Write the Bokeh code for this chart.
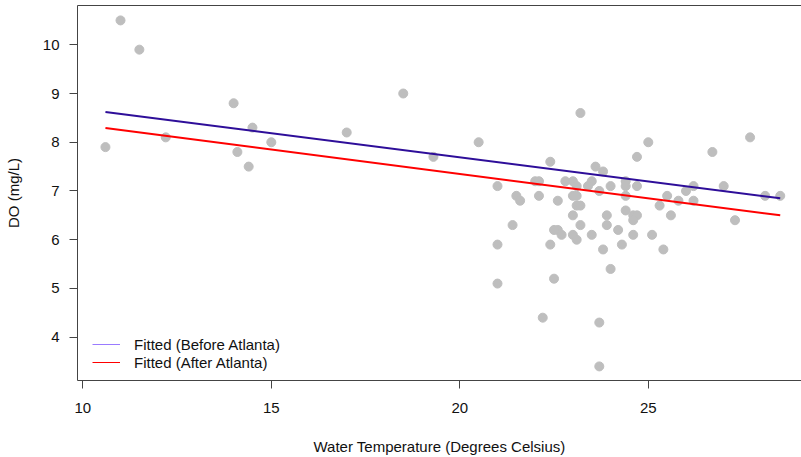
from bokeh.plotting import figure
from bokeh.models import Range1d, FixedTicker, LinearAxis, Legend, LegendItem
from bokeh.embed import file_html
from bokeh.resources import INLINE

# ---- data ----
water_temp = [10.6, 11.0, 11.5, 12.2, 14.0, 14.1, 14.5, 14.4, 15.0, 17.0, 18.5, 19.3, 20.5,
              23.2, 22.4, 23.6, 23.8, 24.0, 21.0, 21.5, 21.6, 22.0, 22.1, 22.1, 22.6, 22.8,
              23.0, 23.1, 23.0, 23.1, 23.5, 23.4, 23.7, 23.1, 23.2, 23.0, 23.9, 21.4, 22.6,
              23.2, 23.9, 25.0, 24.7, 26.7, 27.7, 24.4, 24.4, 24.7, 24.4, 25.5, 25.8, 26.0,
              26.2, 26.2, 27.0, 28.1, 28.5, 25.3, 25.6, 24.4, 24.6, 24.7, 24.6, 27.3, 24.2,
              22.5, 22.7, 23.0, 23.1, 23.5, 24.6, 25.1, 24.3, 21.0, 22.4, 23.8, 24.0, 21.0,
              22.5, 22.2, 23.7, 23.7, 25.4]
dissolved_oxygen = [7.9, 10.5, 9.9, 8.1, 8.8, 7.8, 8.3, 7.5, 8.0, 8.2, 9.0, 7.7, 8.0,
                    8.6, 7.6, 7.5, 7.4, 7.1, 7.1, 6.9, 6.8, 7.2, 7.2, 6.9, 6.8, 7.2,
                    7.2, 7.1, 6.9, 6.9, 7.2, 7.1, 7.0, 6.7, 6.7, 6.5, 6.5, 6.3, 6.2,
                    6.3, 6.3, 8.0, 7.7, 7.8, 8.1, 7.2, 7.1, 7.1, 6.9, 6.9, 6.8, 7.0,
                    7.1, 6.8, 7.1, 6.9, 6.9, 6.7, 6.5, 6.6, 6.5, 6.5, 6.4, 6.4, 6.2,
                    6.2, 6.1, 6.1, 6.0, 6.1, 6.1, 6.1, 5.9, 5.9, 5.9, 5.8, 5.4, 5.1,
                    5.2, 4.4, 4.3, 3.4, 5.8]

fit_temp = [10.6, 28.5]
fit_before = [8.62, 6.85]
fit_after = [8.29, 6.50]

x_ticks = [10, 15, 20, 25]
y_ticks = [4, 5, 6, 7, 8, 9, 10]

legend_labels = ["Fitted (Before Atlanta)", "Fitted (After Atlanta)"]

FONT = "Liberation Sans"
FS = "15px"
TXT = "#111111"
BOX = "#444444"

p = figure(width=801, height=457, output_backend="svg", toolbar_location=None,
           title=None,
           x_range=Range1d(9.859, 29.064), y_range=Range1d(3.111, 10.806),
           min_border_left=77, min_border_right=0, min_border_top=5, min_border_bottom=77,
           x_axis_label="Water Temperature (Degrees Celsius)", y_axis_label="DO (mg/L)")

p.background_fill_color = "white"
p.border_fill_color = "white"
p.outline_line_color = None
p.xgrid.visible = False
p.ygrid.visible = False

for ax, ticks in ((p.xaxis[0], x_ticks), (p.yaxis[0], y_ticks)):
    ax.ticker = FixedTicker(ticks=ticks)
    ax.axis_line_color = BOX
    ax.axis_line_width = 1
    ax.major_tick_line_color = BOX
    ax.major_tick_out = 8
    ax.major_tick_in = 0
    ax.minor_tick_out = 0
    ax.minor_tick_in = 0
    ax.major_label_text_font = FONT
    ax.major_label_text_font_size = FS
    ax.major_label_text_color = TXT
    ax.axis_label_text_font = FONT
    ax.axis_label_text_font_size = FS
    ax.axis_label_text_font_style = "normal"
    ax.axis_label_text_color = TXT

p.xaxis[0].major_label_standoff = 14
p.xaxis[0].axis_label_standoff = 22
p.yaxis[0].major_label_standoff = 10
p.yaxis[0].axis_label_standoff = 18

# top border line (the right border lies outside the reference image)
top = LinearAxis(ticker=FixedTicker(ticks=[]), axis_line_color=BOX, axis_line_width=1,
                 major_tick_out=0, major_tick_in=0, minor_tick_out=0, minor_tick_in=0,
                 major_label_standoff=0, major_label_text_font_size="0px")
p.add_layout(top, "above")

p.scatter(water_temp, dissolved_oxygen, size=9, fill_color="#BEBEBE", line_color="#BEBEBE")

p.line(fit_temp, fit_before, line_color="#2E0E99", line_width=2)
p.line(fit_temp, fit_after, line_color="#FF0000", line_width=2)

leg_r1 = p.line(fit_temp, fit_before, line_color="#9A7BFF", line_width=1, visible=False)
leg_r2 = p.line(fit_temp, fit_after, line_color="#FF0000", line_width=1, visible=False)

legend = Legend(items=[LegendItem(label=legend_labels[0], renderers=[leg_r1]),
                       LegendItem(label=legend_labels[1], renderers=[leg_r2])],
                location=(15, 9), border_line_color=None, background_fill_alpha=0,
                padding=0, margin=0, spacing=0, glyph_width=28, glyph_height=18,
                label_height=18, label_standoff=14, label_text_font=FONT,
                label_text_font_size=FS, label_text_color=TXT)
p.add_layout(legend)

open("out.html", "w").write(file_html(p, INLINE))
